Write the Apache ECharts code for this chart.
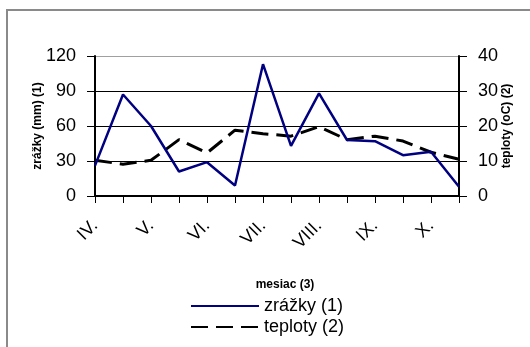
<!DOCTYPE html>
<html>
<head>
<meta charset="utf-8">
<script src="https://cdn.jsdelivr.net/npm/echarts@6/dist/echarts.min.js"></script>
<style>
html,body{margin:0;padding:0;background:#fff;}
#chart{width:530px;height:347px;}
</style>
</head>
<body>
<div id="chart"></div>
<script>
// Data (two readings per month, IV. – X.)
var categories = ['IV.','IV.','V.','V.','VI.','VI.','VII.','VII.','VIII.','VIII.','IX.','IX.','X.','X.'];
var zrazky = [26, 87, 60, 21, 29, 9, 113, 43, 88, 48, 47, 35, 38, 8];
var teploty = [10.2, 9.1, 10.2, 16.1, 12.3, 18.8, 17.8, 17.1, 19.8, 16.1, 17.1, 15.7, 12.5, 10.5];
var leftTicks = [0, 30, 60, 90, 120];
var rightTicks = [0, 10, 20, 30, 40];
var titleText = 'Zrážky a teploty v priebehu roka (IV.–X., 2004)';
var seriesNames = ['zrážky (1)', 'teploty (2)'];
var axisNames = ['zrážky (mm) (1)', 'teploty (oC) (2)', 'mesiac (3)'];

var FONT = 'Liberation Sans, Arial, sans-serif';
var chart = echarts.init(document.getElementById('chart'), null, {renderer: 'canvas'});
chart.setOption({
  backgroundColor: '#ffffff',
  animation: false,
  textStyle: {fontFamily: FONT},
  title: {
    text: titleText,
    right: 14,
    top: -23,
    textStyle: {fontFamily: FONT, fontSize: 18, fontWeight: 'normal', color: '#000'}
  },
  graphic: [{
    type: 'rect',
    silent: true,
    shape: {x: 7, y: 10, width: 700, height: 500},
    style: {fill: 'none', stroke: '#8a8a8a', lineWidth: 2}
  }],
  grid: {left: 95, right: 71, top: 56, bottom: 151, containLabel: false},
  legend: {
    orient: 'vertical',
    left: 185,
    top: 292,
    itemWidth: 68,
    itemHeight: 14,
    itemGap: 3,
    itemStyle: {opacity: 0, borderWidth: 0},
    textStyle: {fontFamily: FONT, fontSize: 18, color: '#000'},
    data: seriesNames
  },
  xAxis: {
    type: 'category',
    data: categories,
    boundaryGap: false,
    name: axisNames[2],
    nameLocation: 'middle',
    nameGap: 83,
    nameMoveOverlap: false,
    nameTextStyle: {fontFamily: FONT, fontSize: 12, fontWeight: 'bold', color: '#000', padding: [0, 0, 0, 16]},
    axisLine: {lineStyle: {color: '#000', width: 2}},
    axisTick: {show: true, interval: 0, inside: false, length: 7, lineStyle: {color: '#000', width: 1}},
    axisLabel: {interval: 1, rotate: 45, margin: 27, fontFamily: FONT, fontSize: 18, color: '#000'},
    splitLine: {show: false}
  },
  yAxis: [{
    type: 'value',
    min: leftTicks[0],
    max: leftTicks[leftTicks.length - 1],
    interval: leftTicks[1] - leftTicks[0],
    position: 'left',
    name: axisNames[0],
    nameLocation: 'middle',
    nameGap: 51,
    nameRotate: 90,
    nameMoveOverlap: false,
    nameTextStyle: {fontFamily: FONT, fontSize: 12, fontWeight: 'bold', color: '#000'},
    axisLine: {show: true, lineStyle: {color: '#000', width: 2}},
    axisTick: {show: true, inside: false, length: 8, lineStyle: {color: '#000'}},
    axisLabel: {margin: 19, fontFamily: FONT, fontSize: 18, color: '#000'},
    splitLine: {show: true, lineStyle: {color: ['#000', '#000', '#000', '#000', '#a0a0a0'], width: 1}}
  }, {
    type: 'value',
    min: rightTicks[0],
    max: rightTicks[rightTicks.length - 1],
    interval: rightTicks[1] - rightTicks[0],
    position: 'right',
    name: axisNames[1],
    nameLocation: 'middle',
    nameGap: 42,
    nameRotate: 90,
    nameMoveOverlap: false,
    nameTextStyle: {fontFamily: FONT, fontSize: 12, fontWeight: 'bold', color: '#000'},
    axisLine: {show: true, lineStyle: {color: '#000', width: 2}},
    axisTick: {show: true, inside: false, length: 8, lineStyle: {color: '#000'}},
    axisLabel: {margin: 19, fontFamily: FONT, fontSize: 18, color: '#000'},
    splitLine: {show: false}
  }],
  series: [{
    name: seriesNames[0],
    type: 'line',
    yAxisIndex: 0,
    data: zrazky,
    symbol: 'none',
    lineStyle: {color: '#000080', width: 2.5},
    itemStyle: {color: '#000080'},
    z: 3
  }, {
    name: seriesNames[1],
    type: 'line',
    yAxisIndex: 1,
    data: teploty,
    symbol: 'none',
    lineStyle: {color: '#000000', width: 3, type: [17, 8]},
    itemStyle: {color: '#000000'},
    z: 2
  }]
});
</script>
</body>
</html>
